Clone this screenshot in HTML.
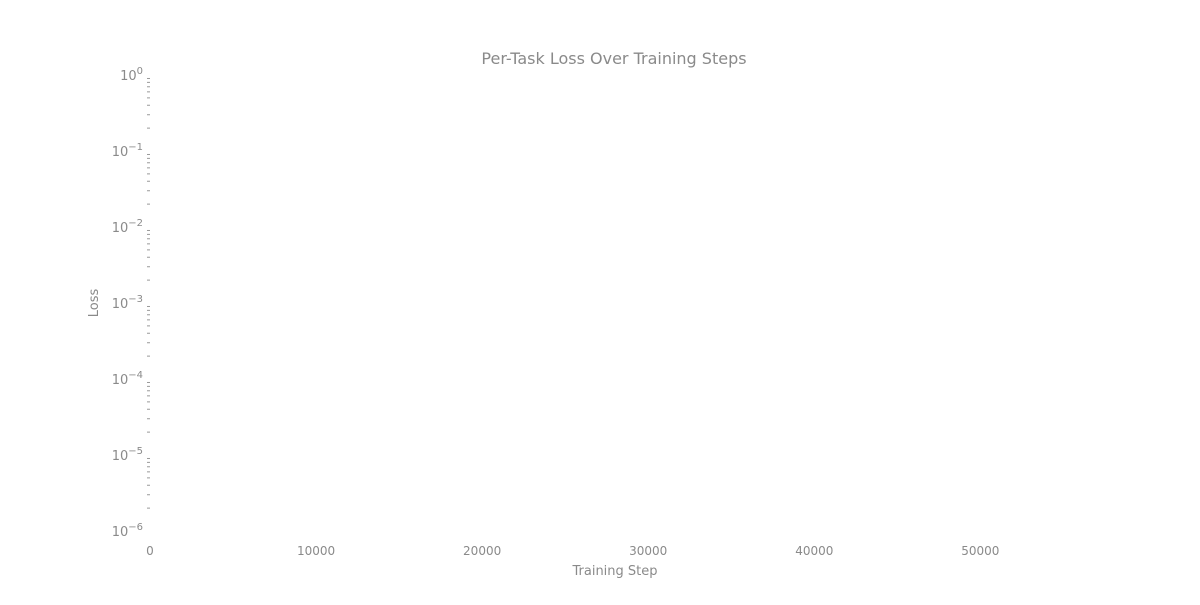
<!DOCTYPE html>
<html><head><meta charset="utf-8"><style>
body{margin:0;background:#fff;}
svg text{font-family:"DejaVu Sans","Liberation Sans",sans-serif;fill:#8a8a8a;}
</style></head><body>
<svg id="chart" width="1200" height="600" xmlns="http://www.w3.org/2000/svg">
<text x="614" y="64" font-size="16" text-anchor="middle" style="fill:#8a8a8a">Per-Task Loss Over Training Steps</text>
<text x="615" y="575" font-size="13" text-anchor="middle">Training Step</text>
<text x="0" y="0" font-size="13" text-anchor="middle" transform="translate(98,303) rotate(-90)">Loss</text>
<g id="xt"></g><g id="yt"></g>
</svg>
<script>
const xTicks=[0,10000,20000,30000,40000,50000];
const yExps=[0,-1,-2,-3,-4,-5,-6];
const xMin=0,xMax=56000,yMinExp=-6,yMaxExp=0;
const L=150,R=1080,T=75,B=531;
const xs=v=>L+(v-xMin)/(xMax-xMin)*(R-L);
const ys=e=>T+(yMaxExp-e)/(yMaxExp-yMinExp)*(B-T);
const NS="http://www.w3.org/2000/svg";
const xt=document.getElementById('xt'),yt=document.getElementById('yt');
xTicks.forEach(v=>{
 const t=document.createElementNS(NS,'text');
 
 
 t.setAttribute('x',xs(v));t.setAttribute('y',555);t.setAttribute('font-size','12');t.setAttribute('text-anchor','middle');
 t.textContent=v;xt.appendChild(t);
});
yExps.forEach(e=>{
 const y=ys(e);
 const t=document.createElementNS(NS,'text');
 
 
 t.setAttribute('x',143);t.setAttribute('y',y+5);t.setAttribute('font-size','13');t.setAttribute('text-anchor','end');
 t.innerHTML='10<tspan dy="-6" font-size="10">'+(e<0?'\u2212'+(-e):e)+'</tspan>';
 yt.appendChild(t);
 if(e>yMinExp){for(let k=2;k<10;k++){
  const yy=ys(e-1+Math.log10(k));
  const m=document.createElementNS(NS,'line');
  
  
  m.setAttribute('x1',147);m.setAttribute('x2',150);m.setAttribute('y1',yy);m.setAttribute('y2',yy);
  m.setAttribute('stroke','#999');m.setAttribute('stroke-width','1');yt.appendChild(m);
 }}
});
</script>
</body></html>
